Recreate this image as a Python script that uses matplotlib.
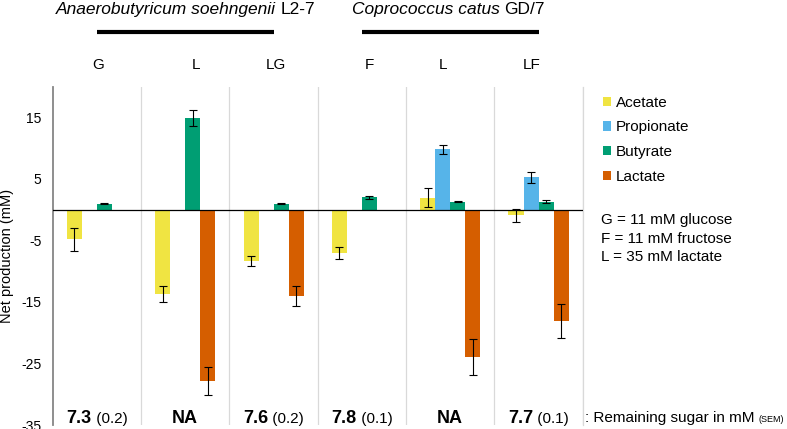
import numpy as np
import matplotlib
matplotlib.use("Agg")
import matplotlib.pyplot as plt
from matplotlib.patches import Patch
from matplotlib.transforms import offset_copy, blended_transform_factory

plt.rcParams["font.family"] = ["Liberation Sans", "DejaVu Sans"]
plt.rcParams["axes.unicode_minus"] = False

# data
conditions = ["G", "L", "LG", "F", "L", "LF"]
series = ["Acetate", "Propionate", "Butyrate", "Lactate"]
acetate = [-4.8, -13.7, -8.4, -7.05, 1.95, -0.93]
acetate_err = [1.85, 1.25, 0.8, 0.97, 1.55, 1.0]
propionate = [np.nan, np.nan, np.nan, np.nan, 9.85, 5.25]
propionate_err = [np.nan, np.nan, np.nan, np.nan, 0.75, 0.95]
butyrate = [1.0, 14.9, 1.0, 2.0, 1.3, 1.3]
butyrate_err = [0.1, 1.3, 0.1, 0.25, 0.1, 0.25]
lactate = [np.nan, -27.8, -14.0, np.nan, -23.9, -18.1]
lactate_err = [np.nan, 2.25, 1.6, np.nan, 2.95, 2.8]
sugar_main = ["7.3", "NA", "7.6", "7.8", "NA", "7.7"]
sugar_sem = ["(0.2)", "", "(0.2)", "(0.1)", "", "(0.1)"]
strains = [("Anaerobutyricum soehngenii", "L2-7"), ("Coprococcus catus", "GD/7")]
strain_spans = [(0, 2), (3, 5)]
notes = ["G = 11 mM glucose", "F = 11 mM fructose", "L = 35 mM lactate"]
yticks = [15, 5, -5, -15, -25, -35]

colors = ["#F0E442", "#56B4E9", "#009E73", "#D55E00"]
values = [acetate, propionate, butyrate, lactate]
errors = [acetate_err, propionate_err, butyrate_err, lactate_err]

fig = plt.figure(figsize=(7.87, 4.29), dpi=100)
ax = fig.add_axes([0.067, 0.0093, 0.6734, 0.7886])
x = np.arange(len(conditions))
width = 0.17

for k, (vals, errs, color) in enumerate(zip(values, errors, colors)):
    pos = x + (k - 1.5) * width
    vals = np.array(vals, dtype=float)
    errs = np.array(errs, dtype=float)
    ok = ~np.isnan(vals)
    ax.bar(pos[ok], vals[ok], width=width, color=color, label=series[k], zorder=2)
    ax.errorbar(pos[ok], vals[ok], yerr=errs[ok], fmt="none", ecolor="black",
                elinewidth=0.8, capsize=2.6, capthick=0.8, zorder=3)

ax.axhline(0, color="black", lw=0.9, zorder=4)
ax.set_xlim(-0.5, len(conditions) - 0.5)
ax.set_ylim(-35, 20)
ax.set_yticks(yticks)
ax.set_yticklabels([str(v) for v in yticks])
ax.set_xticks([])
ax.set_xticks(np.arange(0.5, len(conditions)), minor=True)
ax.grid(which="minor", axis="x", color="#d9d9d9", lw=0.9, zorder=0)
ax.tick_params(axis="y", length=0, pad=8, labelsize=10)
ax.tick_params(which="minor", bottom=False)
for side in ["top", "bottom"]:
    ax.spines[side].set_visible(False)
ax.spines["right"].set_color("#d9d9d9")
ax.spines["right"].set_linewidth(0.9)
ax.spines["left"].set_color("#868686")
ax.spines["left"].set_linewidth(1.3)
ax.set_ylabel("Net production (mM)", fontsize=10.5)
ax.yaxis.set_label_coords(-0.074, 0.5)

renderer = fig.canvas.get_renderer()

# remaining sugar row
for i, (main, sem) in enumerate(zip(sugar_main, sugar_sem)):
    t1 = ax.text(i, -34.6, main, fontsize=13, fontweight="bold", ha="left", va="baseline")
    t2 = ax.text(i, -34.6, (" " + sem) if sem else "", fontsize=11, ha="left", va="baseline")
    w1 = t1.get_window_extent(renderer).width
    w2 = t2.get_window_extent(renderer).width if sem else 0
    total = w1 + w2
    t1.set_transform(offset_copy(ax.transData, fig=fig, x=-total / 2, y=0, units="dots"))
    t2.set_transform(offset_copy(ax.transData, fig=fig, x=-total / 2 + w1, y=0, units="dots"))

tr = blended_transform_factory(ax.transAxes, ax.transData)
t3 = ax.text(1.004, -34.5, ": Remaining sugar in mM", fontsize=11, ha="left", va="baseline",
             transform=tr, clip_on=False)
w3 = t3.get_window_extent(renderer).width
ax.text(1.004, -34.5, "(SEM)", fontsize=6.5, ha="left", va="baseline", clip_on=False,
        transform=offset_copy(tr, fig=fig, x=w3 + 4, y=0, units="dots"))

# condition labels and strain headers
trf = blended_transform_factory(ax.transData, fig.transFigure)
label_shift = [0.01, 0.12, 0.03, 0.08, -0.08, -0.08]
for i, lab in enumerate(conditions):
    ax.text(i + label_shift[i], 0.848, lab, fontsize=11, ha="center", va="center",
            transform=trf, clip_on=False)

title_mid = [1.0, 3.98]
for (lo, hi), (italic, plain), mid in zip(strain_spans, strains, title_mid):
    ax.plot([lo, hi], [0.9247, 0.9247], color="black", lw=3, transform=trf,
            clip_on=False, solid_capstyle="butt")
    ta = ax.text(mid, 0.967, italic + " ", fontsize=12.5, fontstyle="italic", ha="left",
                 va="baseline", transform=trf, clip_on=False)
    tb = ax.text(mid, 0.967, plain, fontsize=12.5, ha="left", va="baseline",
                 transform=trf, clip_on=False)
    wa = ta.get_window_extent(renderer).width
    wb = tb.get_window_extent(renderer).width
    ta.set_transform(offset_copy(trf, fig=fig, x=-(wa + wb) / 2, y=0, units="dots"))
    tb.set_transform(offset_copy(trf, fig=fig, x=-(wa + wb) / 2 + wa, y=0, units="dots"))

handles = [Patch(facecolor=c, label=s) for c, s in zip(colors, series)]
fig.legend(handles=handles, loc="upper left", bbox_to_anchor=(0.7658, 0.777),
           frameon=False, fontsize=11, handlelength=0.55, handleheight=0.55,
           handletextpad=0.3, labelspacing=0.7, borderpad=0, borderaxespad=0)

for j, note in enumerate(notes):
    fig.text(0.7633, 1 - (220.3 + 18.3 * j) / 429, note, fontsize=11, ha="left", va="center")

fig.savefig("out.png", dpi=100)
